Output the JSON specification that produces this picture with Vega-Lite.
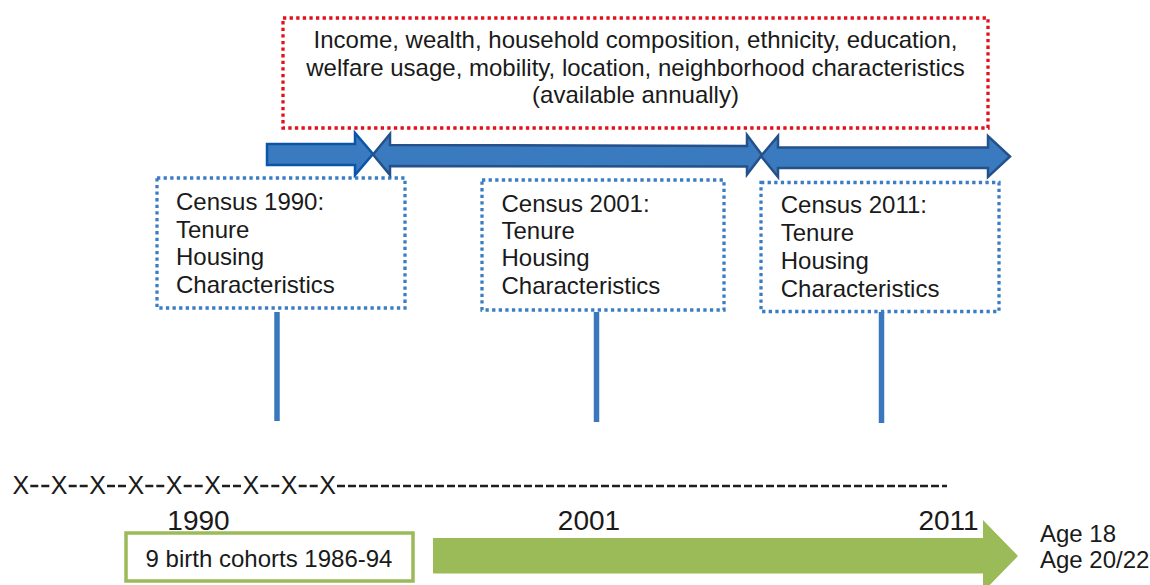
{
  "$schema": "https://vega.github.io/schema/vega-lite/v6.json",
  "width": 1150,
  "height": 585,
  "autosize": {"type": "fit", "contains": "padding"},
  "padding": 0,
  "background": "white",
  "config": {"view": {"stroke": null}},
  "datasets": {
    "redBox": [{"x": 283, "x2": 988, "y": 18, "y2": 128}],
    "censusBoxes": [
      {"x": 157, "x2": 405, "y": 178, "y2": 308},
      {"x": 482, "x2": 724, "y": 180, "y2": 310},
      {"x": 761, "x2": 999, "y": 182.5, "y2": 311.5}
    ],
    "stems": [
      {"x": 277, "y": 312, "y2": 421},
      {"x": 596.5, "y": 312, "y2": 422},
      {"x": 881.5, "y": 312, "y2": 423}
    ],
    "arrows": [
      {"arrow": "a", "x": 267, "y": 144, "y2": 165},
      {"arrow": "a", "x": 355, "y": 144, "y2": 165},
      {"arrow": "a", "x": 355, "y": 133, "y2": 175},
      {"arrow": "a", "x": 373, "y": 154, "y2": 154},
      {"arrow": "b", "x": 373, "y": 154.5, "y2": 154.5},
      {"arrow": "b", "x": 390, "y": 134, "y2": 175},
      {"arrow": "b", "x": 390, "y": 145, "y2": 166},
      {"arrow": "b", "x": 747, "y": 146, "y2": 166.5},
      {"arrow": "b", "x": 747, "y": 135, "y2": 174.5},
      {"arrow": "b", "x": 762, "y": 155, "y2": 155},
      {"arrow": "c", "x": 761, "y": 156, "y2": 156},
      {"arrow": "c", "x": 778, "y": 136, "y2": 177},
      {"arrow": "c", "x": 778, "y": 147.5, "y2": 168},
      {"arrow": "c", "x": 988, "y": 147.5, "y2": 168},
      {"arrow": "c", "x": 988, "y": 136, "y2": 177},
      {"arrow": "c", "x": 1010, "y": 156.5, "y2": 156.5}
    ],
    "green": [
      {"x": 433, "y": 538, "y2": 573.5},
      {"x": 983, "y": 538, "y2": 573.5},
      {"x": 983, "y": 520, "y2": 592},
      {"x": 1018, "y": 556, "y2": 556}
    ],
    "greenBox": [{"x": 126, "x2": 413, "y": 533, "y2": 581}],
    "dashes": [
      {"x": 30.3, "x2": 49.7, "y": 486},
      {"x": 68.7, "x2": 88, "y": 486},
      {"x": 107, "x2": 126.3, "y": 486},
      {"x": 145.3, "x2": 164.7, "y": 486},
      {"x": 183.7, "x2": 203, "y": 486},
      {"x": 222, "x2": 241.3, "y": 486},
      {"x": 260.3, "x2": 279.7, "y": 486},
      {"x": 298.7, "x2": 318, "y": 486},
      {"x": 337, "x2": 947, "y": 486}
    ],
    "centerText": [
      {"x": 635.5, "y": 48.3, "t": "Income, wealth, household composition, ethnicity, education,", "s": 24},
      {"x": 635.5, "y": 75.7, "t": "welfare usage, mobility, location, neighborhood characteristics", "s": 24},
      {"x": 635.5, "y": 103.3, "t": "(available annually)", "s": 24},
      {"x": 20.8, "y": 493.5, "t": "X", "s": 25},
      {"x": 59.2, "y": 493.5, "t": "X", "s": 25},
      {"x": 97.5, "y": 493.5, "t": "X", "s": 25},
      {"x": 135.8, "y": 493.5, "t": "X", "s": 25},
      {"x": 174.2, "y": 493.5, "t": "X", "s": 25},
      {"x": 212.5, "y": 493.5, "t": "X", "s": 25},
      {"x": 250.8, "y": 493.5, "t": "X", "s": 25},
      {"x": 289.2, "y": 493.5, "t": "X", "s": 25},
      {"x": 327.5, "y": 493.5, "t": "X", "s": 25},
      {"x": 198.5, "y": 530, "t": "1990", "s": 28},
      {"x": 589, "y": 530, "t": "2001", "s": 28},
      {"x": 948.5, "y": 530, "t": "2011", "s": 28},
      {"x": 269, "y": 566.7, "t": "9 birth cohorts 1986-94", "s": 24}
    ],
    "leftText": [
      {"x": 176, "y": 210, "t": "Census 1990:"},
      {"x": 176, "y": 237.5, "t": "Tenure"},
      {"x": 176, "y": 265, "t": "Housing"},
      {"x": 176, "y": 292.5, "t": "Characteristics"},
      {"x": 501.5, "y": 211.7, "t": "Census 2001:"},
      {"x": 501.5, "y": 238.5, "t": "Tenure"},
      {"x": 501.5, "y": 265.5, "t": "Housing"},
      {"x": 501.5, "y": 294, "t": "Characteristics"},
      {"x": 780.7, "y": 213, "t": "Census 2011:"},
      {"x": 780.7, "y": 241, "t": "Tenure"},
      {"x": 780.7, "y": 269, "t": "Housing"},
      {"x": 780.7, "y": 296.7, "t": "Characteristics"},
      {"x": 1040, "y": 542.3, "t": "Age 18"},
      {"x": 1040, "y": 568.3, "t": "Age 20/22"}
    ]
  },
  "encoding": {
    "x": {"field": "x", "type": "quantitative", "scale": {"domain": [0, 1150], "nice": false, "zero": false}, "axis": null},
    "y": {"field": "y", "type": "quantitative", "scale": {"domain": [0, 585], "nice": false, "zero": false, "reverse": true}, "axis": null}
  },
  "layer": [
    {
      "data": {"name": "redBox"},
      "mark": {"type": "rect", "filled": false, "stroke": "#e3101b", "strokeWidth": 3.3, "strokeDash": [3.3, 3.3]},
      "encoding": {"x2": {"field": "x2"}, "y2": {"field": "y2"}}
    },
    {
      "data": {"name": "censusBoxes"},
      "mark": {"type": "rect", "filled": false, "stroke": "#3b7dc4", "strokeWidth": 3.3, "strokeDash": [3.3, 3.3]},
      "encoding": {"x2": {"field": "x2"}, "y2": {"field": "y2"}}
    },
    {
      "data": {"name": "stems"},
      "mark": {"type": "rule", "color": "#3a78bd", "strokeWidth": 5.5},
      "encoding": {"y2": {"field": "y2"}}
    },
    {
      "data": {"name": "arrows"},
      "mark": {"type": "area", "fill": "#3a7abf", "strokeWidth": 2.5, "strokeJoin": "miter", "clip": true},
      "encoding": {
        "y": {"field": "y", "type": "quantitative", "stack": null, "scale": {"domain": [0, 585], "nice": false, "zero": false, "reverse": true}, "axis": null},
        "y2": {"field": "y2"},
        "detail": {"field": "arrow"},
        "stroke": {"field": "arrow", "type": "nominal", "scale": {"domain": ["a", "b", "c"], "range": ["#0b55a8", "#24518a", "#24518a"]}, "legend": null}
      }
    },
    {
      "data": {"name": "dashes"},
      "mark": {"type": "rule", "color": "#1e1e1e", "strokeWidth": 2.3, "strokeDash": [8, 3]},
      "encoding": {"x2": {"field": "x2"}}
    },
    {
      "data": {"name": "greenBox"},
      "mark": {"type": "rect", "filled": false, "stroke": "#9bbb59", "strokeWidth": 3.5},
      "encoding": {"x2": {"field": "x2"}, "y2": {"field": "y2"}}
    },
    {
      "data": {"name": "green"},
      "mark": {"type": "area", "fill": "#9bbb59", "clip": true},
      "encoding": {
        "y": {"field": "y", "type": "quantitative", "stack": null, "scale": {"domain": [0, 585], "nice": false, "zero": false, "reverse": true}, "axis": null},
        "y2": {"field": "y2"}
      }
    },
    {
      "data": {"name": "centerText"},
      "mark": {"type": "text", "align": "center", "baseline": "alphabetic", "font": "Liberation Sans", "color": "#1a1a1a", "clip": true},
      "encoding": {"text": {"field": "t"}, "size": {"field": "s", "type": "quantitative", "scale": null}}
    },
    {
      "data": {"name": "leftText"},
      "mark": {"type": "text", "align": "left", "baseline": "alphabetic", "font": "Liberation Sans", "fontSize": 24, "color": "#1a1a1a", "clip": true},
      "encoding": {"text": {"field": "t"}}
    }
  ]
}
